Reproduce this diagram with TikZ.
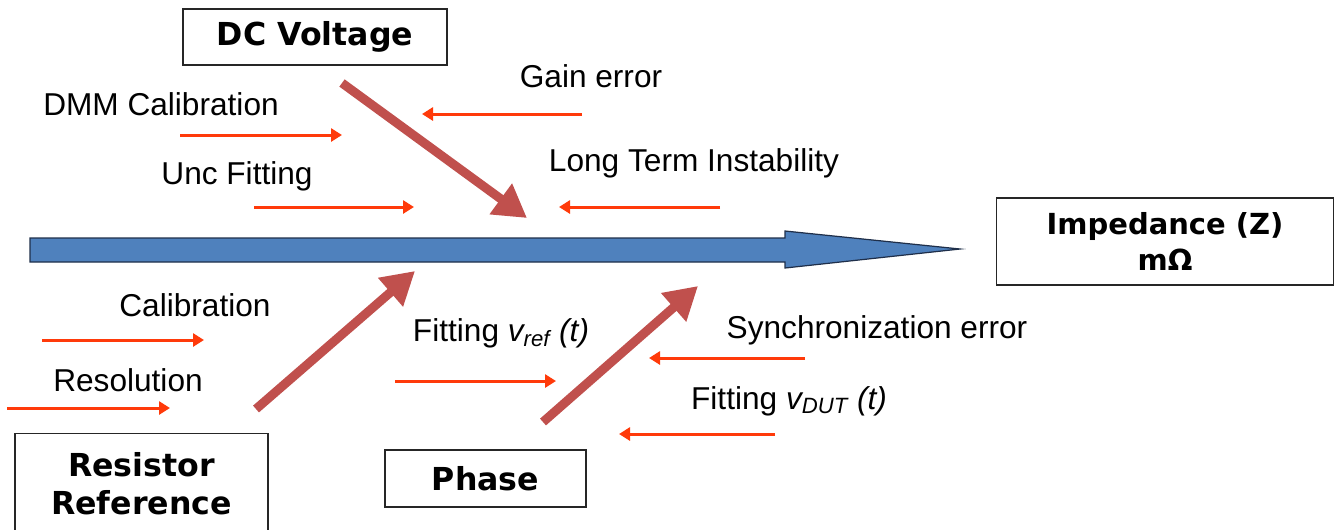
\documentclass[tikz,border=0pt]{standalone}
\usepackage{fontspec}
\setmainfont{Liberation Sans}
\newfontfamily\boxfont{DejaVu Sans}
\usetikzlibrary{arrows.meta}

\definecolor{spineblue}{HTML}{4F81BD}
\definecolor{spineedge}{HTML}{1F2F4A}
\definecolor{branchred}{HTML}{C0504D}
\definecolor{causered}{HTML}{FF3A0A}

\tikzset{
  effectbox/.style={draw=black!85, line width=0.8pt, inner sep=0pt, align=center,
    font=\boxfont\bfseries\fontsize{18}{21.5}\selectfont},
  causetext/.style={font=\fontsize{18}{21}\selectfont},
  cause/.style={causered, line width=0.06cm, -{Triangle[length=0.22cm,width=0.26cm]}},
  branch/.style={branchred, line width=0.18cm, -{Triangle[length=0.65cm,width=0.72cm]}}
}

\begin{document}
\begin{tikzpicture}[x=0.02cm,y=-0.02cm]
  \useasboundingbox (0,0) rectangle (1337,529);

  % spine
  \draw[fill=spineblue, draw=spineedge, line width=0.7pt]
    (30,238) -- (785,238) -- (785,231) -- (960,249) -- (785,268) -- (785,262) -- (30,262) -- cycle;

  % effect boxes
  \node[effectbox, minimum width=5.28cm, minimum height=1.12cm] (dcv) at (315,37) {DC Voltage};
  \node[effectbox, minimum width=6.74cm, minimum height=1.74cm,
        font=\boxfont\bfseries\fontsize{16.5}{21}\selectfont] (imp) at (1165,241.5) {Impedance (Z)\\mΩ};
  \node[effectbox, minimum width=5.06cm, minimum height=2.02cm] (res) at (141.5,484) {Resistor\\Reference};
  \node[effectbox, minimum width=4.02cm, minimum height=1.14cm] (pha) at (485.5,478.5) {Phase};

  % cause labels
  \node[causetext] (dmm) at (161,104) {DMM Calibration};
  \node[causetext] (unc) at (237,176) {Unc Fitting};
  \node[causetext] (gain) at (591,76) {Gain error};
  \node[causetext] (lti) at (694,163) {Long Term Instability};
  \node[causetext] (cal) at (195,305) {Calibration};
  \node[causetext] (reso) at (128,380) {Resolution};
  \node[causetext] (fref) at (501,333) {Fitting {\itshape v\textsubscript{ref} (t)}};
  \node[causetext] (sync) at (877,330) {Synchronization error};
  \node[causetext] (fdut) at (789,401) {Fitting {\itshape v\textsubscript{DUT} (t)}};

  % arrow ends
  \coordinate (dmmA) at (180,135);  \coordinate (dmmB) at (342,135);
  \coordinate (uncA) at (254,207);  \coordinate (uncB) at (414,207);
  \coordinate (gainA) at (582,114); \coordinate (gainB) at (422,114);
  \coordinate (ltiA) at (720,207);  \coordinate (ltiB) at (559,207);
  \coordinate (calA) at (42,340);   \coordinate (calB) at (204,340);
  \coordinate (resoA) at (7,408);   \coordinate (resoB) at (170,408);
  \coordinate (frefA) at (395,381); \coordinate (frefB) at (556,381);
  \coordinate (syncA) at (805,358); \coordinate (syncB) at (649,358);
  \coordinate (fdutA) at (775,434); \coordinate (fdutB) at (619,434);

  \coordinate (dcvA) at (342,83);   \coordinate (dcvB) at (527,218);
  \coordinate (resA) at (256,409);  \coordinate (resB) at (415,271);
  \coordinate (phaA) at (543,422);  \coordinate (phaB) at (698,286);

  % causes
  \draw[cause] (dmmA) -- (dmmB);
  \draw[cause] (uncA) -- (uncB);
  \draw[cause] (gainA) -- (gainB);
  \draw[cause] (ltiA) -- (ltiB);
  \draw[cause] (calA) -- (calB);
  \draw[cause] (resoA) -- (resoB);
  \draw[cause] (frefA) -- (frefB);
  \draw[cause] (syncA) -- (syncB);
  \draw[cause] (fdutA) -- (fdutB);

  % branches
  \draw[branch] (dcvA) -- (dcvB);
  \draw[branch] (resA) -- (resB);
  \draw[branch] (phaA) -- (phaB);
\end{tikzpicture}
\end{document}
